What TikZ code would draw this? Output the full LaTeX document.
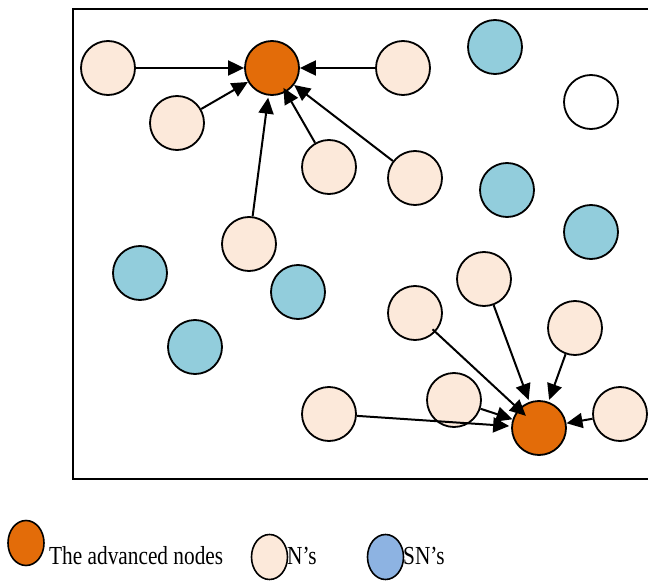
\documentclass[tikz,border=0pt]{standalone}
\usepackage{fontspec}
\setmainfont{Liberation Serif}
\usetikzlibrary{arrows.meta, shapes.geometric}
\definecolor{advorange}{HTML}{E36C09}
\definecolor{npeach}{HTML}{FCE9DA}
\definecolor{snaqua}{HTML}{92CDDC}
\definecolor{snblue}{HTML}{8DB3E2}
\tikzset{
  nd/.style={circle, draw=black, line width=1.8pt, minimum size=54pt, inner sep=0pt},
  adv/.style={nd, fill=advorange},
  nn/.style={nd, fill=npeach},
  sn/.style={nd, fill=snaqua},
  free/.style={nd, fill=white},
  link/.style={line width=2pt, -{Triangle[length=16pt,width=15pt]}},
  legdot/.style={ellipse, draw=black, line width=1.6pt, minimum width=36pt, minimum height=45pt, inner sep=0pt},
  legtext/.style={anchor=base west, inner sep=0pt, font=\fontsize{26}{30}\selectfont, xscale=0.82, transform shape}
}
\begin{document}
\begin{tikzpicture}[x=1pt, y=-1pt]
\useasboundingbox (0,0) rectangle (648,583);
% frame (its right side lies past the page edge)
\draw[line width=1.8pt] (660,9) -- (73,9) -- (73,479) -- (660,479);

% upper cluster
\node[adv] (a1) at (272,68) {};
\node[nn] (n1) at (108,68) {};
\node[nn] (n2) at (403,68) {};
\node[nn] (n3) at (177,123) {};
\node[nn] (n4) at (329,167) {};
\node[nn] (n5) at (415,178) {};
\node[nn] (n6) at (249,244) {};

% lower cluster
\node[adv] (a2) at (539,428) {};
\node[nn] (m1) at (415,313) {};
\node[nn] (m2) at (484,279) {};
\node[nn] (m3) at (575,328) {};
\node[nn] (m4) at (454,400) {};
\node[nn] (m5) at (329,414) {};
\node[nn] (m6) at (620,414) {};

% sensor nodes
\node[sn] (s1) at (495,47) {};
\node[free] (w1) at (591,102) {};
\node[sn] (s2) at (507,190) {};
\node[sn] (s3) at (591,232) {};
\node[sn] (s4) at (140,273) {};
\node[sn] (s5) at (298,292) {};
\node[sn] (s6) at (195,347) {};

% links to the first advanced node
\draw[link] (n1) -- (a1);
\draw[link] (n2) -- (a1);
\draw[link] (n3) -- (a1);
\draw[link, shorten >=-5pt] (n4) -- (a1);
\draw[link] (n5) -- (a1);
\draw[link, shorten >=2pt] (n6) -- (a1);

% links to the second advanced node
\draw[link, shorten <=-4pt, shorten >=-10pt] (m1) -- (a2);
\draw[link, shorten >=2pt] (m2) -- (a2);
\draw[link, shorten >=2pt] (m3) -- (a2);
\draw[link] (m4) -- (a2);
\draw[link, shorten >=2pt] (m5) -- (a2);
\draw[link] (m6) -- (a2);

% legend
\node[legdot, fill=advorange] (la) at (26,543) {};
\node[legtext] (ta) at (49,564) {The advanced nodes};
\node[legdot, fill=npeach] (ln) at (269.5,557) {};
\node[legtext] (tn) at (287,564) {N’s};
\node[legdot, fill=snblue] (ls) at (385.5,557) {};
\node[legtext] (ts) at (403,564) {SN’s};
\end{tikzpicture}
\end{document}
